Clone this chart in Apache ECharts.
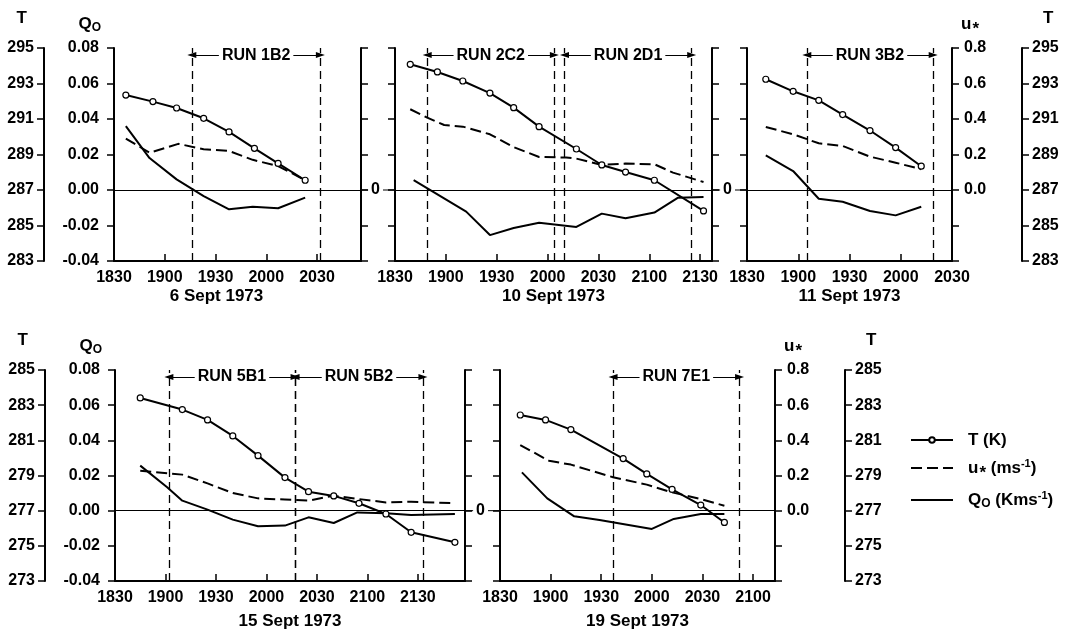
<!DOCTYPE html>
<html>
<head>
<meta charset="utf-8">
<script src="https://cdn.jsdelivr.net/npm/echarts@6/dist/echarts.min.js"></script>
<style>
html, body { margin: 0; padding: 0; background: #fff; }
#chart { width: 1068px; height: 633px; }
</style>
</head>
<body>
<div id="chart"></div>
<script>
// clock times (evening), T in K, u* in m/s, Q0 in K m/s
let sep6TTime = ['18:37', '18:53', '19:07', '19:23', '19:38', '19:53', '20:07', '20:23'];
let sep6T = [292.35, 291.98, 291.62, 291.04, 290.27, 289.35, 288.50, 287.55];
let sep6UTime = ['18:37', '18:51', '19:08', '19:23', '19:38', '19:52', '20:07', '20:23'];
let sep6U = [0.29, 0.21, 0.26, 0.23, 0.22, 0.17, 0.135, 0.055];
let sep6QTime = ['18:37', '18:51', '19:07', '19:23', '19:38', '19:52', '20:07', '20:23'];
let sep6Q = [0.036, 0.018, 0.006, -0.0034, -0.0109, -0.0094, -0.0103, -0.0043];
let sep6Runs = [['RUN 1B2', '19:16', '20:32']];

let sep10TTime = ['18:39', '18:55', '19:10', '19:26', '19:40', '19:55', '20:17', '20:32', '20:46', '21:03', '21:32'];
let sep10T = [294.08, 293.65, 293.14, 292.46, 291.64, 290.57, 289.31, 288.41, 288.01, 287.55, 285.82];
let sep10UTime = ['18:39', '18:49', '18:59', '19:10', '19:26', '19:40', '19:55', '20:11', '20:17', '20:32', '20:46', '21:03', '21:14', '21:32'];
let sep10U = [0.455, 0.408, 0.366, 0.357, 0.314, 0.242, 0.186, 0.183, 0.177, 0.141, 0.149, 0.145, 0.098, 0.045];
let sep10QTime = ['18:41', '19:12', '19:26', '19:40', '19:55', '20:17', '20:32', '20:46', '21:03', '21:17', '21:32'];
let sep10Q = [0.0056, -0.0122, -0.0254, -0.0214, -0.0184, -0.0208, -0.0133, -0.0159, -0.0127, -0.0043, -0.0039];
let sep10Runs = [['RUN 2C2', '18:49', '20:04'], ['RUN 2D1', '20:10', '21:25']];

let sep11TTime = ['18:41', '18:57', '19:12', '19:26', '19:42', '19:57', '20:12'];
let sep11T = [293.24, 292.56, 292.05, 291.25, 290.35, 289.39, 288.34];
let sep11UTime = ['18:41', '18:57', '19:12', '19:26', '19:42', '19:57', '20:12'];
let sep11U = [0.355, 0.314, 0.263, 0.248, 0.188, 0.154, 0.117];
let sep11QTime = ['18:41', '18:57', '19:12', '19:26', '19:42', '19:57', '20:12'];
let sep11Q = [0.0195, 0.0107, -0.0049, -0.0066, -0.0118, -0.0143, -0.0094];
let sep11Runs = [['RUN 3B2', '19:05', '20:19']];

let sep15TTime = ['18:45', '19:10', '19:25', '19:40', '19:55', '20:11', '20:25', '20:40', '20:55', '21:11', '21:26', '21:52'];
let sep15T = [283.41, 282.75, 282.16, 281.25, 280.13, 278.88, 278.08, 277.84, 277.42, 276.81, 275.77, 275.20];
let sep15UTime = ['18:45', '19:10', '19:25', '19:40', '19:55', '20:11', '20:25', '20:40', '20:55', '21:11', '21:26', '21:52'];
let sep15U = [0.227, 0.205, 0.155, 0.10, 0.07, 0.063, 0.057, 0.085, 0.066, 0.047, 0.051, 0.042];
let sep15QTime = ['18:45', '19:01', '19:10', '19:25', '19:40', '19:55', '20:11', '20:25', '20:40', '20:54', '21:11', '21:26', '21:52'];
let sep15Q = [0.0256, 0.0133, 0.0057, 0.0006, -0.0051, -0.0089, -0.0085, -0.0038, -0.007, -0.001, -0.0015, -0.0024, -0.0019];
let sep15Runs = [['RUN 5B1', '19:02', '20:17'], ['RUN 5B2', '20:17', '21:33']];

let sep19TTime = ['18:42', '18:57', '19:12', '19:43', '19:57', '20:12', '20:29', '20:43'];
let sep19T = [282.44, 282.16, 281.61, 279.96, 279.09, 278.21, 277.32, 276.33];
let sep19UTime = ['18:42', '18:59', '19:12', '19:37', '19:57', '20:12', '20:29', '20:43'];
let sep19U = [0.373, 0.284, 0.262, 0.19, 0.148, 0.104, 0.066, 0.028];
let sep19QTime = ['18:43', '18:58', '19:14', '19:29', '20:00', '20:13', '20:29', '20:43'];
let sep19Q = [0.0218, 0.007, -0.0032, -0.0053, -0.0104, -0.0047, -0.0019, -0.0019];
let sep19Runs = [['RUN 7E1', '19:37', '20:52']];

let seriesNames = ['T (K)', 'u* (ms-1)', 'Q0 (Kms-1)'];
let legendText = {
  'T (K)': 'T (K)',
  'u* (ms-1)': 'u{ast|*} (ms{sup|-1})',
  'Q0 (Kms-1)': 'Q{sub|O} (Kms{sup|-1})'
};

let dayStart = 18 * 60 + 30;
function toMin(s) {
  let p = s.split(':');
  return +p[0] * 60 + +p[1] - dayStart;
}
function clock(v) {
  let m = dayStart + v;
  let mm = m % 60;
  return '' + Math.floor(m / 60) + (mm < 10 ? '0' : '') + mm;
}
function pairs(times, vals) {
  return times.map((t, i) => [toMin(t), vals[i]]);
}

let font = '"Liberation Sans", Arial, sans-serif';
let rich = {
  sub: {fontSize: 12, lineHeight: 10, verticalAlign: 'bottom', fontWeight: 'bold', fontFamily: font, color: '#000'},
  ast: {fontSize: 17, lineHeight: 12, verticalAlign: 'bottom', fontWeight: 'bold', fontFamily: font, color: '#000', padding: [0, 0, -4, 1]},
  sup: {fontSize: 11, lineHeight: 10, verticalAlign: 'top', fontWeight: 'bold', fontFamily: font, color: '#000'}
};

let panels = [
  {date: '6 Sept 1973', tt: sep6TTime, t: sep6T, ut: sep6UTime, u: sep6U, qt: sep6QTime, q: sep6Q, runs: sep6Runs,
    left: 114, top: 48, width: 247, height: 213, xMax: 146, tSide: 'left', tMin: 283, dateShift: -21},
  {date: '10 Sept 1973', tt: sep10TTime, t: sep10T, ut: sep10UTime, u: sep10U, qt: sep10QTime, q: sep10Q, runs: sep10Runs,
    left: 395, top: 48, width: 317, height: 213, xMax: 187, tSide: 'none', tMin: 283, dateShift: 0},
  {date: '11 Sept 1973', tt: sep11TTime, t: sep11T, ut: sep11UTime, u: sep11U, qt: sep11QTime, q: sep11Q, runs: sep11Runs,
    left: 747, top: 48, width: 205, height: 213, xMax: 120, tSide: 'right', tMin: 283, dateShift: 0},
  {date: '15 Sept 1973', tt: sep15TTime, t: sep15T, ut: sep15UTime, u: sep15U, qt: sep15QTime, q: sep15Q, runs: sep15Runs,
    left: 115, top: 370, width: 350, height: 211, xMax: 208, tSide: 'left', tMin: 273, dateShift: 0},
  {date: '19 Sept 1973', tt: sep19TTime, t: sep19T, ut: sep19UTime, u: sep19U, qt: sep19QTime, q: sep19Q, runs: sep19Runs,
    left: 500, top: 370, width: 275, height: 211, xMax: 163, tSide: 'right', tMin: 273, dateShift: 0}
];

let axisLineStyle = {color: '#000', width: 2};
let tickStyle = {color: '#000', width: 1.5};
let labelFont = {fontFamily: font, fontWeight: 'bold', fontSize: 16, color: '#000'};

let grid = [], xAxis = [], yAxis = [], series = [], qAxisOf = [];

panels.forEach(function (p, i) {
  let full = p.tSide === 'left';
  grid.push({left: p.left, top: p.top, width: p.width, height: p.height});
  xAxis.push({
    type: 'value', gridIndex: i, min: 0, max: p.xMax, interval: 30,
    name: p.date, nameLocation: 'middle', nameGap: p.top < 100 ? 27 : 32,
    nameTextStyle: {fontFamily: font, fontWeight: 'bold', fontSize: 17, color: '#000',
      padding: [0, p.dateShift < 0 ? -2 * p.dateShift : 0, 0, 0]},
    axisLine: {onZero: false, lineStyle: axisLineStyle},
    axisTick: {inside: true, length: 7, lineStyle: tickStyle},
    axisLabel: Object.assign({margin: 9, formatter: v => v % 30 === 0 ? clock(v) : ''}, labelFont),
    splitLine: {show: false}
  });

  let qIdx = yAxis.length;
  qAxisOf.push(qIdx);
  yAxis.push({
    type: 'value', gridIndex: i, position: 'left', min: -0.04, max: 0.08, interval: 0.02,
    name: full ? 'Q{sub|O}' : '', nameLocation: 'end', nameGap: 14,
    nameTextStyle: Object.assign({align: 'right', padding: [0, 13, 0, 0], lineHeight: 20, rich: rich}, labelFont, {fontSize: 17}),
    axisLine: {show: true, onZero: false, lineStyle: axisLineStyle},
    axisTick: {show: true, length: 7, lineStyle: tickStyle},
    axisLabel: Object.assign({
      margin: 12, backgroundColor: '#fff', padding: [0, 3],
      formatter: function (v) {
        if (Math.abs(v) < 1e-9) return full ? '0.00' : '0';
        return full ? v.toFixed(2) : '';
      }
    }, labelFont),
    splitLine: {show: false}
  });

  let uIdx = yAxis.length;
  let uLabels = p.tSide === 'right';
  yAxis.push({
    type: 'value', gridIndex: i, position: 'right', min: -0.4, max: 0.8, interval: 0.2,
    name: uLabels ? 'u{ast|*}' : '', nameLocation: 'end', nameGap: 14,
    nameTextStyle: Object.assign({align: 'left', padding: [0, 0, 0, 9], lineHeight: 20, rich: rich}, labelFont, {fontSize: 17}),
    axisLine: {show: true, onZero: false, lineStyle: axisLineStyle},
    axisTick: {show: true, length: 7, lineStyle: tickStyle},
    axisLabel: Object.assign({
      show: uLabels, margin: 12,
      formatter: v => v < -1e-9 ? '' : Math.abs(v).toFixed(1)
    }, labelFont),
    splitLine: {show: false}
  });

  let tIdx = yAxis.length;
  yAxis.push({
    type: 'value', gridIndex: i, show: p.tSide !== 'none',
    position: p.tSide === 'right' ? 'right' : 'left', offset: 70,
    min: p.tMin, max: p.tMin + 12, interval: 2,
    name: 'T', nameLocation: 'end', nameGap: 21,
    nameTextStyle: Object.assign(p.tSide === 'right'
      ? {align: 'left', padding: [0, 0, 0, 21]}
      : {align: 'right', padding: [0, 17, 0, 0]}, labelFont, {fontSize: 17}),
    axisLine: {show: true, onZero: false, lineStyle: axisLineStyle},
    axisTick: {show: true, length: 7, lineStyle: tickStyle},
    axisLabel: Object.assign({margin: 10}, labelFont),
    splitLine: {show: false}
  });

  series.push({
    name: seriesNames[0], type: 'line', xAxisIndex: i, yAxisIndex: tIdx,
    data: pairs(p.tt, p.t), symbol: 'circle', symbolSize: 6, showSymbol: true,
    itemStyle: {color: '#fff', borderColor: '#000', borderWidth: 1.2},
    lineStyle: {color: '#000', width: 2}, z: 3
  });
  series.push({
    name: seriesNames[1], type: 'line', xAxisIndex: i, yAxisIndex: uIdx,
    data: pairs(p.ut, p.u), symbol: 'none',
    itemStyle: {color: '#000'},
    lineStyle: {color: '#000', width: 2, type: [11, 5]}
  });

  let marks = [[{coord: [0, 0]}, {coord: [p.xMax, 0]}]];
  p.runs.forEach(function (r) {
    marks.push({xAxis: toMin(r[1]), lineStyle: {type: [8, 5], width: 1.3, color: '#000'}});
    marks.push({xAxis: toMin(r[2]), lineStyle: {type: [8, 5], width: 1.3, color: '#000'}});
    marks.push([
      {coord: [toMin(r[1]), 0.076], symbol: 'triangle', symbolSize: [6, 9],
        lineStyle: {type: 'solid', width: 1, color: '#000'},
        label: {show: true, position: 'middle', distance: 0, verticalAlign: 'middle', formatter: r[0],
          backgroundColor: '#fff', padding: [0, 3], fontFamily: font, fontWeight: 'bold', fontSize: 16, color: '#000'}},
      {coord: [toMin(r[2]), 0.076], symbol: 'triangle', symbolSize: [6, 9]}
    ]);
  });

  series.push({
    name: seriesNames[2], type: 'line', xAxisIndex: i, yAxisIndex: qIdx,
    data: pairs(p.qt, p.q), symbol: 'none',
    itemStyle: {color: '#000'},
    lineStyle: {color: '#000', width: 2},
    markLine: {
      silent: true, symbol: 'none', animation: false,
      label: {show: false},
      lineStyle: {type: 'solid', width: 1, color: '#000'},
      data: marks
    }
  });
});

let hiddenSymbol = {color: 'rgba(0,0,0,0)', borderColor: 'rgba(0,0,0,0)', borderWidth: 0};

let chart = echarts.init(document.getElementById('chart'));
chart.setOption({
  animation: false,
  backgroundColor: '#fff',
  grid: grid,
  xAxis: xAxis,
  yAxis: yAxis,
  legend: {
    left: 910, top: 430, orient: 'vertical', selectedMode: false, padding: 0,
    itemWidth: 42, itemHeight: 7, itemGap: 8,
    data: [
      {name: seriesNames[0]},
      {name: seriesNames[1], itemStyle: hiddenSymbol},
      {name: seriesNames[2], itemStyle: hiddenSymbol}
    ],
    formatter: n => legendText[n],
    textStyle: {fontFamily: font, fontWeight: 'bold', fontSize: 17, color: '#000',
      lineHeight: 20, padding: [0, 0, 0, 10], rich: rich}
  },
  series: series
});

// zero line continues across the gap between neighbouring panels
let gaps = [[0, 1], [1, 2], [3, 4]];
chart.setOption({
  graphic: gaps.map(function (g) {
    let y = chart.convertToPixel({yAxisIndex: qAxisOf[g[1]]}, 0);
    let x1 = chart.convertToPixel({xAxisIndex: g[0]}, panels[g[0]].xMax);
    let x2 = chart.convertToPixel({xAxisIndex: g[1]}, 0);
    return {type: 'line', z: -1, silent: true, shape: {x1: x1, y1: y, x2: x2, y2: y},
      style: {stroke: '#000', lineWidth: 1}};
  })
});
</script>
</body>
</html>
